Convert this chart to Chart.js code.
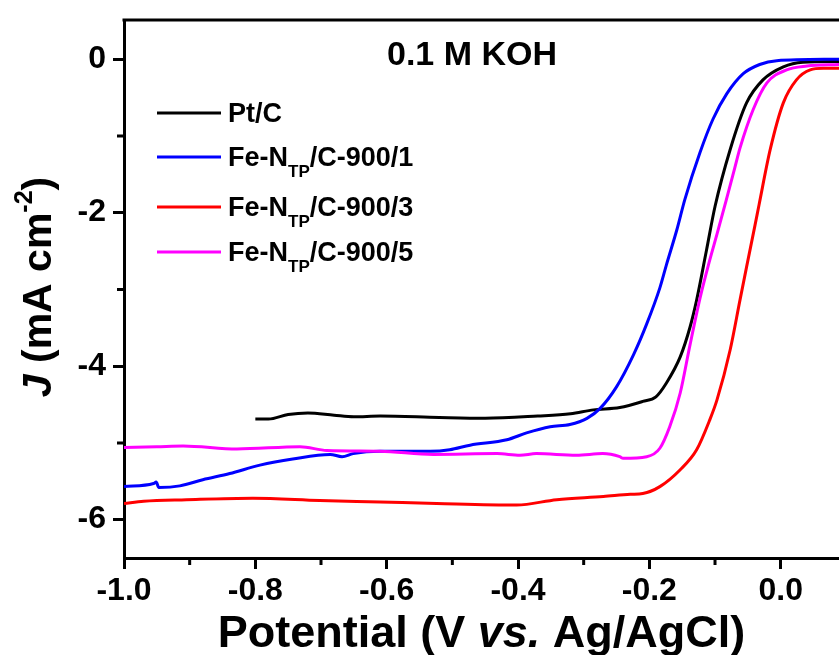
<!DOCTYPE html>
<html>
<head>
<meta charset="utf-8">
<script src="https://cdn.jsdelivr.net/npm/chart.js@4.4.0/dist/chart.umd.min.js"></script>
<style>
  html, body { margin: 0; padding: 0; background: #fff; }
</style>
</head>
<body>
<canvas id="myChart" width="839" height="655"></canvas>
<script>
// tick positions
let xMajorTicks = [-1.0, -0.8, -0.6, -0.4, -0.2, 0.0];
let xMinorTicks = [-0.9, -0.7, -0.5, -0.3, -0.1];
let yMajorTicks = [0, -2, -4, -6];
let yMinorTicks = [-1, -3, -5];

// series (V vs Ag/AgCl, mA cm-2)
let ptcV = [-0.80, -0.78, -0.75, -0.72, -0.68, -0.65, -0.61, -0.52, -0.45, -0.37, -0.32, -0.285, -0.245, -0.21, -0.19, -0.174, -0.153, -0.138, -0.128, -0.113, -0.100, -0.077, -0.052, -0.027, 0.004, 0.034, 0.089];
let ptcJ = [-4.69, -4.69, -4.63, -4.61, -4.64, -4.66, -4.65, -4.67, -4.68, -4.65, -4.62, -4.57, -4.54, -4.46, -4.40, -4.22, -3.88, -3.49, -3.14, -2.49, -1.92, -1.18, -0.57, -0.27, -0.10, -0.04, -0.03];

let fe1V = [-1.0, -0.955, -0.951, -0.947, -0.915, -0.88, -0.839, -0.793, -0.743, -0.686, -0.668, -0.651, -0.61, -0.534, -0.504, -0.473, -0.417, -0.387, -0.351, -0.321, -0.295, -0.275, -0.25, -0.224, -0.204, -0.184, -0.174, -0.158, -0.146, -0.123, -0.103, -0.082, -0.057, -0.032, -0.006, 0.089];
let fe1J = [-5.57, -5.53, -5.51, -5.58, -5.56, -5.48, -5.40, -5.29, -5.21, -5.15, -5.18, -5.14, -5.11, -5.11, -5.09, -5.03, -4.96, -4.87, -4.79, -4.76, -4.68, -4.55, -4.27, -3.85, -3.45, -2.98, -2.68, -2.22, -1.83, -1.22, -0.78, -0.45, -0.19, -0.07, -0.02, 0.0];

let fe3V = [-1.0, -0.97, -0.905, -0.804, -0.702, -0.61, -0.524, -0.402, -0.341, -0.27, -0.229, -0.21, -0.184, -0.153, -0.128, -0.108, -0.097, -0.077, -0.062, -0.052, -0.039, -0.033, -0.016, 0.004, 0.024, 0.045, 0.065, 0.089];
let fe3J = [-5.79, -5.76, -5.74, -5.72, -5.75, -5.77, -5.79, -5.81, -5.74, -5.70, -5.67, -5.66, -5.57, -5.35, -5.09, -4.70, -4.44, -3.79, -3.14, -2.71, -2.16, -1.90, -1.18, -0.57, -0.27, -0.14, -0.12, -0.12];

let fe5V = [-1.0, -0.95, -0.91, -0.828, -0.732, -0.691, -0.61, -0.529, -0.432, -0.397, -0.372, -0.311, -0.271, -0.245, -0.24, -0.204, -0.184, -0.169, -0.153, -0.138, -0.123, -0.110, -0.097, -0.083, -0.070, -0.062, -0.042, -0.021, 0.009, 0.040, 0.089];
let fe5J = [-5.06, -5.05, -5.04, -5.08, -5.05, -5.10, -5.11, -5.15, -5.14, -5.16, -5.14, -5.16, -5.14, -5.18, -5.20, -5.18, -5.07, -4.79, -4.35, -3.72, -3.12, -2.68, -2.28, -1.84, -1.42, -1.16, -0.66, -0.31, -0.14, -0.09, -0.07];

// legend text, "_" part is subscript
let seriesNames = [["Pt/C"], ["Fe-N", "_TP", "/C-900/1"], ["Fe-N", "_TP", "/C-900/3"], ["Fe-N", "_TP", "/C-900/5"]];
let seriesColors = ["#000000", "#0000ff", "#ff0000", "#ff00ff"];
let chartTitle = "0.1 M KOH";

const FONT = '"Liberation Sans", Arial, sans-serif';

function pts(xs, ys) {
  return xs.map((v, i) => ({ x: v, y: ys[i] }));
}

function fontStr(size, italic) {
  return (italic ? "italic " : "") + "bold " + size + "px " + FONT;
}

// draws a row of text pieces: {t, size, italic, dy}
function drawPieces(ctx, x, y, parts, align) {
  let total = 0;
  parts.forEach(p => { ctx.font = fontStr(p.size, p.italic); total += ctx.measureText(p.t).width; });
  let cx = align === "center" ? x - total / 2 : x;
  ctx.textAlign = "left";
  ctx.textBaseline = "alphabetic";
  parts.forEach(p => {
    ctx.font = fontStr(p.size, p.italic);
    ctx.fillText(p.t, cx, y + (p.dy || 0));
    cx += ctx.measureText(p.t).width;
  });
}

const decor = {
  id: "decor",
  afterDraw(chart) {
    const ctx = chart.ctx;
    const a = chart.chartArea;
    const xs = chart.scales.x, ys = chart.scales.y;
    ctx.save();
    ctx.strokeStyle = "#000";
    ctx.fillStyle = "#000";
    ctx.lineWidth = 3;
    // top frame line
    ctx.beginPath();
    ctx.moveTo(a.left - 1.5, a.top);
    ctx.lineTo(a.right, a.top);
    ctx.stroke();
    // minor ticks
    ctx.beginPath();
    xMinorTicks.forEach(v => {
      let px = xs.getPixelForValue(v);
      ctx.moveTo(px, a.bottom);
      ctx.lineTo(px, a.bottom + 7);
    });
    yMinorTicks.forEach(v => {
      let py = ys.getPixelForValue(v);
      ctx.moveTo(a.left, py);
      ctx.lineTo(a.left - 7, py);
    });
    ctx.stroke();

    // panel title
    drawPieces(ctx, 472, 65, [{ t: chartTitle, size: 34 }], "center");

    // legend
    let rowY = [113, 157, 207, 252];
    seriesNames.forEach((name, i) => {
      ctx.strokeStyle = seriesColors[i];
      ctx.lineWidth = 3;
      ctx.beginPath();
      ctx.moveTo(157, rowY[i]);
      ctx.lineTo(221, rowY[i]);
      ctx.stroke();
      let parts = name.map(s => s[0] === "_" ? { t: s.slice(1), size: 17, dy: 11 } : { t: s, size: 27 });
      drawPieces(ctx, 228, rowY[i] + 9, parts, "left");
    });

    // x axis title
    drawPieces(ctx, (a.left + a.right) / 2, 647, [
      { t: "Potential (V ", size: 45 },
      { t: "vs.", size: 45, italic: true },
      { t: " Ag/AgCl)", size: 45 }
    ], "center");

    // y axis title
    ctx.translate(51, 287);
    ctx.rotate(-Math.PI / 2);
    drawPieces(ctx, 0, 0, [
      { t: "J", size: 41, italic: true },
      { t: " (mA cm", size: 41 },
      { t: "-2", size: 25, dy: -19 },
      { t: ")", size: 41 }
    ], "center");
    ctx.restore();
  }
};

const ctx = document.getElementById("myChart").getContext("2d");
const myChart = new Chart(ctx, {
  type: "line",
  data: {
    datasets: [
      { label: "Pt/C", data: pts(ptcV, ptcJ), borderColor: seriesColors[0], order: 3 },
      { label: "Fe-NTP/C-900/1", data: pts(fe1V, fe1J), borderColor: seriesColors[1], order: 2 },
      { label: "Fe-NTP/C-900/3", data: pts(fe3V, fe3J), borderColor: seriesColors[2], order: 1 },
      { label: "Fe-NTP/C-900/5", data: pts(fe5V, fe5J), borderColor: seriesColors[3], order: 0 }
    ]
  },
  options: {
    responsive: false,
    animation: false,
    events: [],
    layout: { padding: { top: 20, right: 0, left: 0, bottom: 0 } },
    elements: {
      point: { radius: 0 },
      line: { borderWidth: 3, cubicInterpolationMode: "monotone", borderJoinStyle: "round", fill: false }
    },
    plugins: { legend: { display: false }, tooltip: { enabled: false } },
    scales: {
      x: {
        type: "linear",
        min: -1.0,
        max: 0.0888,
        afterBuildTicks: s => { s.ticks = xMajorTicks.map(v => ({ value: v })); },
        afterFit: s => { s.height = 97; s.paddingLeft = 0; s.paddingRight = 0; },
        grid: { drawOnChartArea: false, drawTicks: true, tickLength: 11, tickWidth: 3, tickColor: "#000" },
        border: { display: true, color: "#000", width: 3 },
        ticks: {
          color: "#000",
          padding: 3,
          maxRotation: 0,
          autoSkip: false,
          font: { family: FONT, size: 32, weight: "bold" },
          callback: v => Number(v).toFixed(1)
        }
      },
      y: {
        type: "linear",
        min: -6.5,
        max: 0.51,
        afterBuildTicks: s => { s.ticks = yMajorTicks.map(v => ({ value: v })); },
        afterFit: s => { s.width = 124; s.paddingTop = 0; s.paddingBottom = 0; },
        grid: { drawOnChartArea: false, drawTicks: true, tickLength: 11, tickWidth: 3, tickColor: "#000" },
        border: { display: true, color: "#000", width: 3 },
        ticks: {
          color: "#000",
          padding: 7,
          autoSkip: false,
          font: { family: FONT, size: 32, weight: "bold" },
          callback: v => String(v)
        }
      }
    }
  },
  plugins: [decor]
});
</script>
</body>
</html>
